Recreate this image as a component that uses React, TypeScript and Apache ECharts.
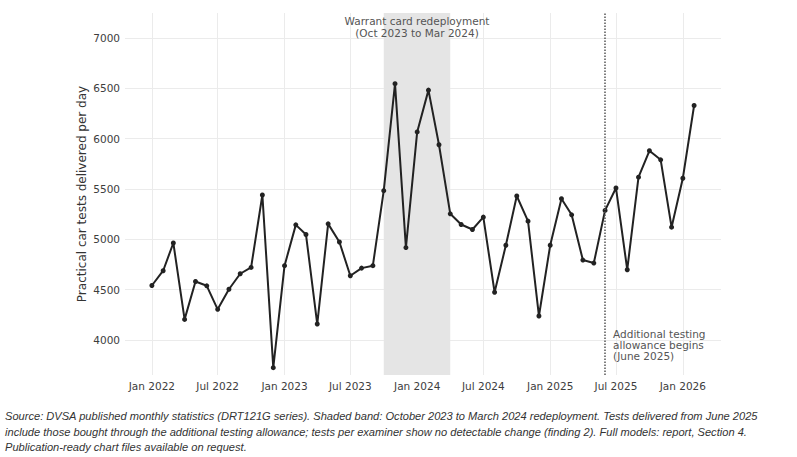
import React, { useEffect, useRef } from "react";
import * as echarts from "echarts";

// Monthly practical car tests delivered per day, January 2022 onwards
const startYear = 2022;
const startMonth = 1;
const testsPerDay = [
  4540, 4687, 4963, 4203, 4580, 4537, 4303, 4503, 4657, 4720, 5440, 3723,
  4737, 5143, 5047, 4157, 5153, 4973, 4637, 4713, 4737, 5483, 6547, 4917,
  6067, 6483, 5940, 5253, 5147, 5097, 5220, 4473, 4940, 5430, 5180, 4237,
  4940, 5403, 5243, 4793, 4763, 5287, 5510, 4697, 5617, 5880, 5790, 5120,
  5607, 6330,
];

const xTickDates = [
  "2022-01-01", "2022-07-01", "2023-01-01", "2023-07-01", "2024-01-01",
  "2024-07-01", "2025-01-01", "2025-07-01", "2026-01-01",
];
const yTicks = [4000, 4500, 5000, 5500, 6000, 6500, 7000];
const monthNames = ["Jan", "Feb", "Mar", "Apr", "May", "Jun", "Jul", "Aug", "Sep", "Oct", "Nov", "Dec"];

const redeploymentBand = ["2023-10-01", "2024-04-01"];
const redeploymentLabel = "Warrant card redeployment\n(Oct 2023 to Mar 2024)";
const allowanceStart = "2025-06-01";
const allowanceLabel = "Additional testing\nallowance begins\n(June 2025)";
const allowanceLabelLevel = 3950;

const xRange = ["2021-10-19", "2026-04-16"];
const yRange = [3650, 7250];

const footnoteLines = [
  "Source: DVSA published monthly statistics (DRT121G series). Shaded band: October 2023 to March 2024 redeployment. Tests delivered from June 2025",
  "include those bought through the additional testing allowance; tests per examiner show no detectable change (finding 2). Full models: report, Section 4.",
  "Publication-ready chart files available on request.",
];

const ts = (s: string) => {
  const [y, m, d] = s.split("-").map(Number);
  return new Date(y, m - 1, d).getTime();
};

const seriesData = testsPerDay.map((v, i) => {
  const m0 = startMonth - 1 + i;
  const y = startYear + Math.floor(m0 / 12);
  const m = (m0 % 12) + 1;
  return [new Date(y, m - 1, 1).getTime(), v];
});

export default function App() {
  const ref = useRef<HTMLDivElement>(null);

  useEffect(() => {
    document.body.style.margin = "0";
    if (!ref.current) return;
    const chart = echarts.init(ref.current, undefined, { renderer: "svg" });
    const axisFont = "DejaVu Sans";
    const gridColor = "#ebebeb";

    chart.setOption({
      animation: false,
      backgroundColor: "#ffffff",
      grid: { left: 125, right: 76, top: 13, bottom: 82, containLabel: false },
      xAxis: {
        type: "value",
        min: ts(xRange[0]),
        max: ts(xRange[1]),
        axisLine: { show: false },
        axisTick: { show: false },
        splitLine: { show: false },
        axisLabel: {
          customValues: xTickDates.map(ts),
          formatter: (v: number) => {
            const d = new Date(v);
            return `${monthNames[d.getMonth()]} ${d.getFullYear()}`;
          },
          color: "#3d3d3d",
          fontFamily: axisFont,
          fontSize: 10.5,
          margin: 5,
          hideOverlap: false,
        },
      },
      yAxis: {
        type: "value",
        min: yRange[0],
        max: yRange[1],
        minInterval: yTicks[1] - yTicks[0],
        maxInterval: yTicks[1] - yTicks[0],
        name: "Practical car tests delivered per day",
        nameLocation: "middle",
        nameGap: 37,
        nameMoveOverlap: false,
        nameTextStyle: { color: "#333", fontFamily: axisFont, fontSize: 12 },
        axisLine: { show: false },
        axisTick: { show: false },
        axisLabel: {
          color: "#3d3d3d",
          fontFamily: axisFont,
          fontSize: 10.5,
          margin: 5,
          showMinLabel: false,
          showMaxLabel: false,
          formatter: (v: number) => String(v),
        },
        splitLine: {
          show: true,
          showMinLine: false,
          showMaxLine: false,
          lineStyle: { color: gridColor, width: 1 },
        },
      },
      series: [
        {
          // vertical grid lines at the labelled dates
          type: "line",
          data: [],
          z: 0,
          silent: true,
          markLine: {
            z: 0,
            silent: true,
            symbol: "none",
            label: { show: false },
            lineStyle: { color: gridColor, width: 1, type: "solid" },
            data: xTickDates.map((d) => ({ xAxis: ts(d) })),
          },
        },
        {
          // redeployment period
          type: "line",
          data: [],
          z: 1,
          silent: true,
          markArea: {
            z: 1,
            silent: true,
            itemStyle: { color: "#e5e5e5" },
            label: {
              show: true,
              position: "insideTop",
              distance: 2,
              color: "#555",
              fontFamily: axisFont,
              fontSize: 10.5,
              lineHeight: 11.7,
              align: "center",
            },
            data: [
              [
                { xAxis: ts(redeploymentBand[0]), name: redeploymentLabel },
                { xAxis: ts(redeploymentBand[1]) },
              ],
            ],
          },
        },
        {
          type: "line",
          name: "Tests delivered per day",
          data: seriesData,
          z: 3,
          symbol: "circle",
          symbolSize: 5,
          showSymbol: true,
          lineStyle: { color: "#222", width: 2 },
          itemStyle: { color: "#222" },
          markLine: {
            z: 5,
            silent: true,
            symbol: "none",
            label: { show: false },
            lineStyle: { color: "#555", width: 1.5, type: "dotted" },
            data: [{ xAxis: ts(allowanceStart) }],
          },
          markPoint: {
            silent: true,
            symbol: "circle",
            symbolSize: 0,
            label: {
              show: true,
              position: "right",
              distance: 8,
              color: "#555",
              fontFamily: axisFont,
              fontSize: 10.5,
              lineHeight: 11,
              align: "left",
              formatter: allowanceLabel,
            },
            data: [{ coord: [ts(allowanceStart), allowanceLabelLevel] }],
          },
        },
      ],
      graphic: footnoteLines.map((line, i) => ({
        type: "text",
        x: 5,
        y: 416 + i * 15.5,
        silent: true,
        style: {
          text: line,
          fill: "#333",
          font: "italic 11.1px 'Liberation Sans', Arial, sans-serif",
          verticalAlign: "middle",
        },
      })),
    });

    return () => chart.dispose();
  }, []);

  return <div ref={ref} style={{ width: 797, height: 457 }} />;
}
